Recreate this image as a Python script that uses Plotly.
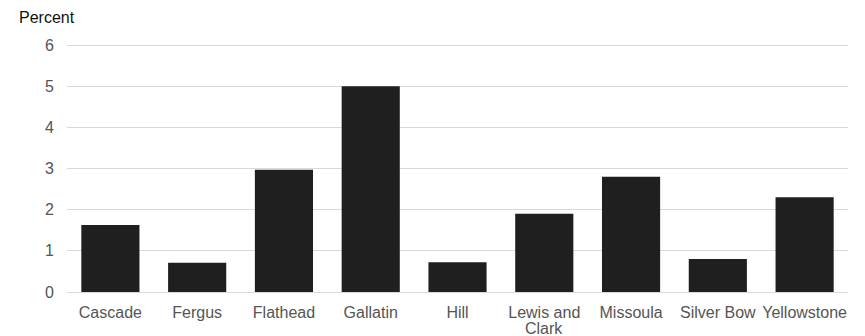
import plotly.graph_objects as go

counties = ["Cascade", "Fergus", "Flathead", "Gallatin", "Hill",
            "Lewis and Clark", "Missoula", "Silver Bow", "Yellowstone"]
tick_labels = ["Cascade", "Fergus", "Flathead", "Gallatin", "Hill",
               "Lewis and", "Missoula", "Silver Bow", "Yellowstone"]
wrapped_second_line = {"Lewis and Clark": "Clark"}
percent = [1.63, 0.71, 2.97, 5.0, 0.72, 1.9, 2.8, 0.8, 2.3]
y_ticks = [0, 1, 2, 3, 4, 5, 6]

fig = go.Figure(go.Bar(
    x=counties, y=percent,
    marker=dict(color="#1f1f1f", line=dict(width=0)),
))

font = dict(family="Liberation Sans, Arial, sans-serif", size=16, color="#555555")

annotations = [dict(text="Percent", xref="paper", yref="paper",
                    x=-0.064, y=1.104, xanchor="left", yanchor="middle",
                    showarrow=False,
                    font=dict(family="Liberation Sans, Arial, sans-serif",
                              size=16, color="#111111"))]
for cat, line2 in wrapped_second_line.items():
    annotations.append(dict(text=line2, x=cat, xref="x", yref="paper",
                            y=-0.148, xanchor="center", yanchor="middle",
                            showarrow=False, font=font))

fig.update_layout(
    width=865, height=336,
    margin=dict(l=59, r=25, t=34.9, b=51.5),
    paper_bgcolor="white", plot_bgcolor="white",
    bargap=0.33,
    showlegend=False,
    font=font,
    xaxis=dict(showgrid=False, showline=False, zeroline=False, automargin=False,
               tickvals=counties, ticktext=tick_labels,
               ticks="outside", ticklen=6, tickcolor="rgba(0,0,0,0)",
               tickfont=font),
    yaxis=dict(range=[0, 6.05], tickvals=y_ticks, showgrid=True, automargin=False,
               gridcolor="#d9d9d9", gridwidth=1,
               zeroline=True, zerolinecolor="#d9d9d9", zerolinewidth=1,
               showline=False, ticks="outside", ticklen=9,
               tickcolor="rgba(0,0,0,0)", tickfont=font),
    annotations=annotations,
)

fig.write_html("out.html")
